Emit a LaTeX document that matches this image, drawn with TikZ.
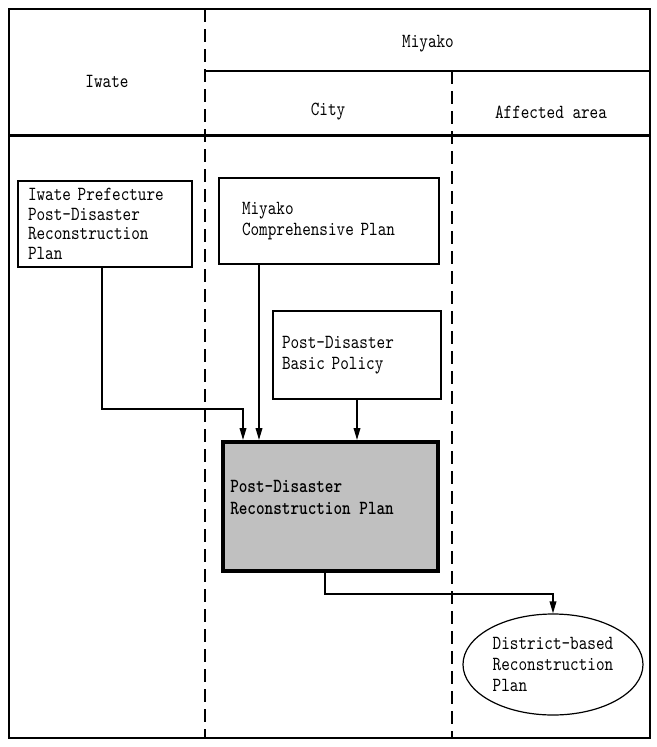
\documentclass[tikz,border=0pt]{standalone}
\usepackage{fontspec}
\newfontfamily\mono{lmmono10-regular.otf}[FakeStretch=0.82]
\newfontfamily\monob{lmmonolt10-bold.otf}[FakeStretch=0.82]
\usetikzlibrary{arrows.meta,shapes.geometric,calc}
\begin{document}
\begin{tikzpicture}[x=0.75pt,y=-0.75pt,
  font=\mono\fontsize{15pt}{16pt}\selectfont,
  box/.style={draw, line width=0.8pt, inner ysep=0pt, align=left},
  arr/.style={line width=1.1pt, -{Triangle[length=9pt,width=5pt]}},
  divider/.style={line width=1.2pt, dash pattern=on 9.75pt off 5.25pt},
  hdr/.style={inner sep=0pt}]
\fill[white] (0,0) rectangle (657,747);
\useasboundingbox (0,0) rectangle (657,747);
% frame and header rules
\draw[line width=1.1pt] (9,9) rectangle (650,738);
\draw[line width=2.2pt] (205,71) -- (650,71);
\draw[line width=2.6pt] (9,135.5) -- (650,135.5);
\draw[divider] (205,9) -- (205,738);
\draw[divider] (452,71) -- (452,738);
% header texts
\node[hdr] (hmiyako) at (428,44) {Miyako};
\node[hdr] (hiwate) at (107,81) {Iwate};
\node[hdr] (hcity) at (328,112) {City};
\node[hdr] (harea) at (551,112) {Affected area};
% boxes
\node[box, minimum width=130.5pt, minimum height=64.5pt, inner xsep=7.5pt,
      text width=115.5pt, font=\mono\fontsize{15pt}{14.6pt}\selectfont]
  (iwate) at (105,224) {Iwate Prefecture\\Post-Disaster\\Reconstruction\\Plan};
\node[box, minimum width=165pt, minimum height=64.5pt, inner xsep=17.25pt,
      text width=130.5pt]
  (miyako) at (329,221) {Miyako\\Comprehensive Plan};
\node[box, minimum width=126pt, minimum height=66pt, inner xsep=6.75pt,
      text width=112.5pt]
  (policy) at (357,355) {Post-Disaster\\Basic Policy};
\node[draw, line width=3pt, fill={rgb,255:red,192;green,192;blue,192},
      minimum width=161.25pt, minimum height=96.75pt, inner sep=0pt]
  (main) at (330.5,506.5) {};
\node[anchor=west, align=left, inner sep=0pt, font=\monob\fontsize{15pt}{16pt}\selectfont]
  (maintext) at (230,497.5) {Post-Disaster\\Reconstruction Plan};
\node[draw, ellipse, line width=0.9pt, minimum width=135pt, minimum height=75.75pt,
      inner sep=0pt, align=left]
  (district) at (553,664.5) {District-based\\Reconstruction\\Plan};
% connector bend points
\coordinate (iwa) at (102,409);
\coordinate (iwb) at (243,409);
\coordinate (mx) at (259,409);
\coordinate (da) at (325,594);
\coordinate (db) at (553,594);
% connectors
\draw[arr] (iwate.south -| iwa) -- (iwa) -- (iwb) -- (main.north -| iwb);
\draw[arr] (miyako.south -| mx) -- (main.north -| mx);
\draw[arr] (policy.south) -- (main.north -| policy.south);
\draw[arr] (main.south -| da) -- (da) -- (db) -- (district.north);
\end{tikzpicture}
\end{document}
